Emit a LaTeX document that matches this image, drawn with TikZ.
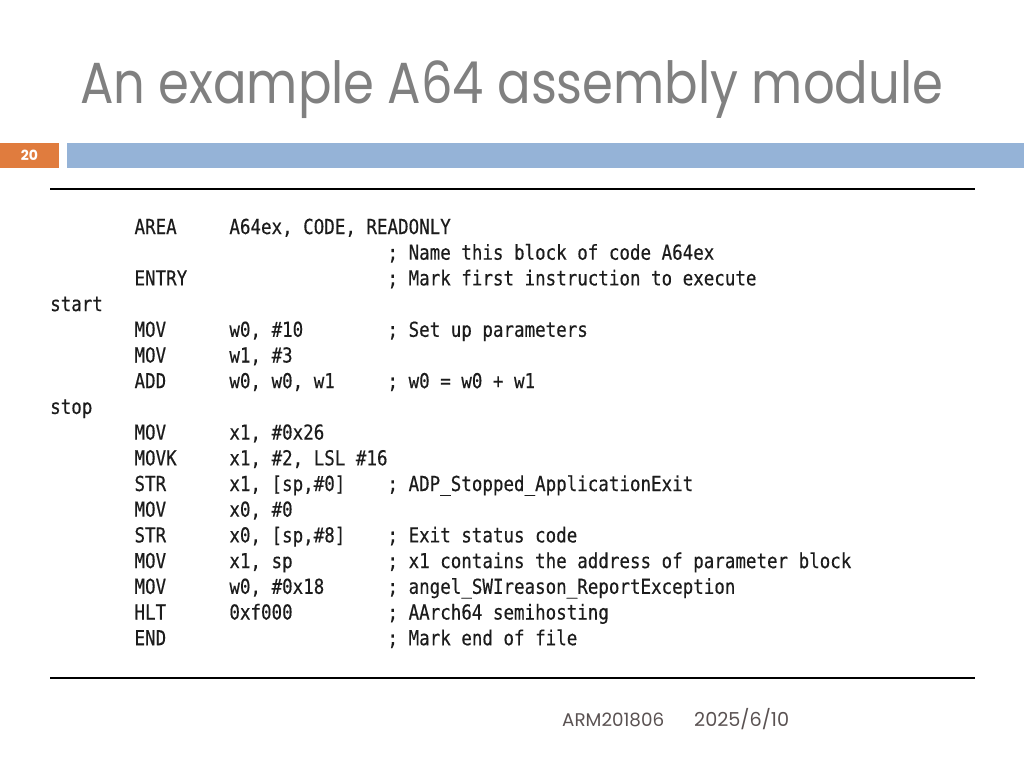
\documentclass[tikz,border=0pt]{standalone}
\usepackage{fontspec}
\setmainfont{Poppins}
\newfontfamily\codefont[FakeStretch=0.85,FakeBold=0.4]{DejaVu Sans Mono}
\newfontfamily\titlefont{Poppins}
\definecolor{orangebox}{HTML}{E07C3E}
\definecolor{bluebar}{HTML}{95B3D7}
\definecolor{titlegray}{HTML}{808080}
\definecolor{footgray}{HTML}{5A5252}
\definecolor{codeink}{HTML}{1C1C1C}
\newlength\cw
\newlength\ttlw
\newcommand\codesize{\fontsize{20.6pt}{24pt}\selectfont}
\newcommand\titletext{\titlefont\fontsize{58pt}{64pt}\selectfont An example A64 assembly module}
\newcommand\asmline[4]{\makebox[8\cw][l]{#1}\makebox[9\cw][l]{#2}\makebox[15\cw][l]{#3}#4}
\tikzset{
  codeline/.style={anchor=base west, inner sep=0pt, text=codeink, font=\codefont\codesize},
  rule/.style={line width=2.6pt, black},
  foot/.style={anchor=base west, inner sep=0pt, text=footgray, font=\fontsize{16.5pt}{18pt}\selectfont},
}
\begin{document}
\settowidth{\cw}{\codefont\codesize 0}%
\settowidth{\ttlw}{\titletext}%
\pgfmathsetmacro\tfac{863/\ttlw}%
\begin{tikzpicture}[x=1pt,y=-1pt]
\useasboundingbox (0,0) rectangle (1024,768);
% title
\node[anchor=base west, inner sep=0pt, text=titlegray] (title) at (80,103)
  {\scalebox{\tfac}[1]{\titletext}};
% bars
\fill[orangebox] (0,143) rectangle (59,168);
\node[text=white, font=\bfseries\fontsize{14pt}{16pt}\selectfont, inner sep=0pt] (pagenum) at (29.5,155.5) {20};
\fill[bluebar] (67,143) rectangle (1024,168);
% rules
\coordinate (rtl) at (50,189);
\coordinate (rtr) at (975,189);
\coordinate (rbl) at (50,678);
\coordinate (rbr) at (975,678);
\draw[rule] (rtl) -- (rtr);
\draw[rule] (rbl) -- (rbr);
% code
\foreach \i/\txt in {
 1/{\asmline{}{AREA}{A64ex, CODE, READONLY}{}},
 2/{\asmline{}{}{}{; Name this block of code A64ex}},
 3/{\asmline{}{ENTRY}{}{; Mark first instruction to execute}},
 4/{\asmline{start}{}{}{}},
 5/{\asmline{}{MOV}{w0, \#10}{; Set up parameters}},
 6/{\asmline{}{MOV}{w1, \#3}{}},
 7/{\asmline{}{ADD}{w0, w0, w1}{; w0 = w0 + w1}},
 8/{\asmline{stop}{}{}{}},
 9/{\asmline{}{MOV}{x1, \#0x26}{}},
 10/{\asmline{}{MOVK}{x1, \#2, LSL \#16}{}},
 11/{\asmline{}{STR}{x1, [sp,\#0]}{; ADP\_Stopped\_ApplicationExit}},
 12/{\asmline{}{MOV}{x0, \#0}{}},
 13/{\asmline{}{STR}{x0, [sp,\#8]}{; Exit status code}},
 14/{\asmline{}{MOV}{x1, sp}{; x1 contains the address of parameter block}},
 15/{\asmline{}{MOV}{w0, \#0x18}{; angel\_SWIreason\_ReportException}},
 16/{\asmline{}{HLT}{0xf000}{; AArch64 semihosting}},
 17/{\asmline{}{END}{}{; Mark end of file}}}
 {\node[codeline] (code\i) at (50,{234+(\i-1)*25.7}) {\txt};}
% footer
\node[foot] (footl) at (562,726) {\resizebox{102pt}{!}{ARM201806}};
\node[foot] (footr) at (694,726) {\resizebox{95pt}{!}{2025/6/10}};
\end{tikzpicture}
\end{document}
